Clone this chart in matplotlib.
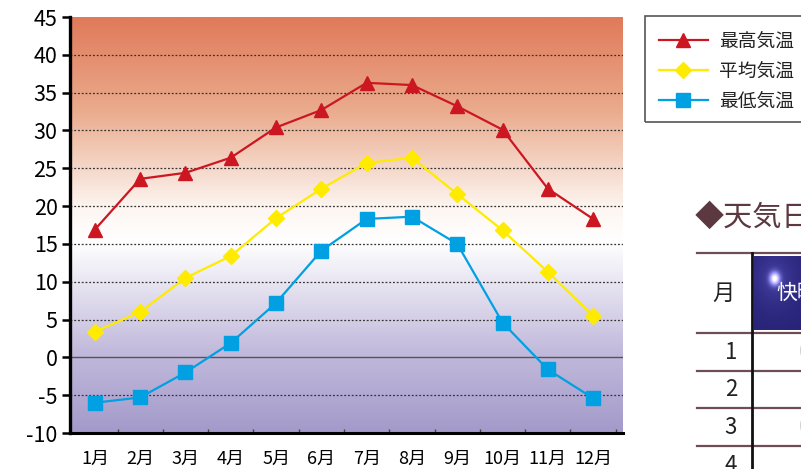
import numpy as np
import matplotlib
matplotlib.use("Agg")
import matplotlib.pyplot as plt
from matplotlib.colors import LinearSegmentedColormap
from matplotlib.lines import Line2D
from matplotlib.patches import Rectangle

plt.rcParams['font.family'] = ['Noto Sans CJK JP', 'DejaVu Sans']

months = ["1月", "2月", "3月", "4月", "5月", "6月", "7月", "8月", "9月", "10月", "11月", "12月"]
t_max = [16.9, 23.6, 24.4, 26.4, 30.4, 32.7, 36.3, 36.0, 33.2, 30.1, 22.3, 18.3]
t_avg = [3.4, 6.0, 10.5, 13.4, 18.4, 22.3, 25.7, 26.4, 21.6, 16.8, 11.3, 5.5]
t_min = [-6.0, -5.3, -2.0, 1.9, 7.2, 14.1, 18.3, 18.6, 15.0, 4.6, -1.6, -5.4]
series_names = ["最高気温", "平均気温", "最低気温"]
yticks = list(range(-10, 50, 5))
table_rows = ["1", "2", "3", "4"]

W, H = 801, 469
fig = plt.figure(figsize=(W / 100, H / 100), dpi=100)

def fx(px):
    return px / W

def fy(py):
    return 1 - py / H

ax = fig.add_axes([fx(70), fy(433), fx(623) - fx(70), fy(17) - fy(433)])
x = np.arange(len(months))
xl = (-0.55, 11.66)
ax.set_xlim(*xl)
ax.set_ylim(-10, 45)

# gradient background
cmap = LinearSegmentedColormap.from_list("bg", [
    (0.0, (163/255, 154/255, 202/255)),
    (0.20, (195/255, 187/255, 220/255)),
    (0.46, (255/255, 255/255, 255/255)),
    (0.54, (253/255, 246/255, 242/255)),
    (0.78, (234/255, 170/255, 140/255)),
    (1.0, (224/255, 122/255, 90/255)),
])
grad = np.linspace(1, 0, 256).reshape(-1, 1)
ax.imshow(grad, extent=[xl[0], xl[1], -10, 45], aspect='auto', cmap=cmap,
          zorder=0, interpolation='bilinear')

for v in yticks:
    if v in (-10, 45):
        continue
    if v == 0:
        ax.axhline(v, color='#555555', lw=1.0, zorder=1)
    else:
        ax.axhline(v, color='#333333', lw=0.9, ls=(0, (1.5, 1.5)), zorder=1)

l1, = ax.plot(x, t_max, color='#CC1722', lw=1.6, marker='^', ms=10, zorder=3)
l2, = ax.plot(x, t_avg, color='#FFEB00', lw=1.6, marker='D', ms=8, zorder=3)
l3, = ax.plot(x, t_min, color='#00A0E3', lw=1.6, marker='s', ms=10.5, zorder=3)

for s in ['top', 'right']:
    ax.spines[s].set_visible(False)
ax.spines['left'].set_linewidth(2.4)
ax.spines['bottom'].set_linewidth(2.2)
ax.spines['left'].set_zorder(5)
ax.spines['bottom'].set_zorder(5)

ax.set_yticks(yticks)
ax.set_yticklabels([str(v) for v in yticks])
ax.tick_params(axis='y', direction='out', length=6, width=1.8, labelsize=15.5, pad=3, color='black')
ax.set_xticks(x)
ax.set_xticklabels(months)
ax.tick_params(axis='x', length=0, labelsize=13, pad=12)
ax.set_xticks(np.arange(0.5, 11.6, 1), minor=True)
ax.tick_params(axis='x', which='minor', direction='in', length=3, width=1, color='#444444')

# legend
fig.patches.append(Rectangle((fx(644.5), fy(121.5)), fx(830) - fx(644.5), fy(16) - fy(121.5),
                             transform=fig.transFigure, fill=False, ec='#555555', lw=1.2))
leg = fig.legend([l1, l2, l3], series_names, loc='upper left',
                 bbox_to_anchor=(fx(659), fy(31)), frameon=False, fontsize=13.5,
                 handlelength=2.6, handletextpad=0.6, labelspacing=0.47,
                 borderpad=0, borderaxespad=0)
for t in leg.get_texts():
    t.set_color('#222222')

# right section: title and partial table
fig.text(fx(695), fy(218), "◆天気日数", fontsize=21, color='#5C3840',
         va='center', ha='left')

fig.add_artist(Line2D([fx(697), fx(801)], [fy(253), fy(253)], color='#6E4E55', lw=1.6))
for yy in [332.5, 370.5, 408, 446]:
    fig.add_artist(Line2D([fx(697), fx(801)], [fy(yy), fy(yy)], color='#6E4E55', lw=1.6))
fig.add_artist(Line2D([fx(752), fx(752)], [fy(253), fy(469)], color='#111111', lw=2.0))

# header cell image
hax = fig.add_axes([fx(754), fy(330), fx(801) - fx(754), fy(256) - fy(330)])
hax.axis('off')
yy, xx = np.mgrid[0:74, 0:60]
r = np.sqrt((xx - 26) ** 2 + (yy - 22) ** 2)
base = np.zeros((74, 60, 3))
base[..., 0] = 40 / 255
base[..., 1] = 36 / 255
base[..., 2] = 120 / 255
glow = np.exp(-(r / 6.5) ** 2)
halo = np.exp(-(r / 30.0) ** 2) * 0.35
for c, add in enumerate([215, 215, 235]):
    base[..., c] = np.clip(base[..., c] + glow * add / 255 + halo * (60 / 255 if c < 2 else 90 / 255), 0, 1)
hax.imshow(base, aspect='auto', extent=[0, 1, 0, 1], interpolation='bilinear')
hax.set_xlim(0, 1)
hax.set_ylim(0, 1)
fig.text(fx(776), fy(293), "快晴", fontsize=15, color='white', va='center', ha='left')

fig.text(fx(723), fy(293), "月", fontsize=16, color='#222222', va='center', ha='center')
row_y = [352, 390, 427, 465]
for lab, yy_ in zip(table_rows, row_y):
    fig.text(fx(737), fy(yy_), lab, fontsize=16, color='#222222', va='center', ha='right')
for lab, yy_ in zip(["0", "1", "0"], row_y[:3]):
    fig.text(fx(799), fy(yy_), lab, fontsize=16, color='#C8C8C8', va='center', ha='left')

fig.savefig("out.png", dpi=100)
